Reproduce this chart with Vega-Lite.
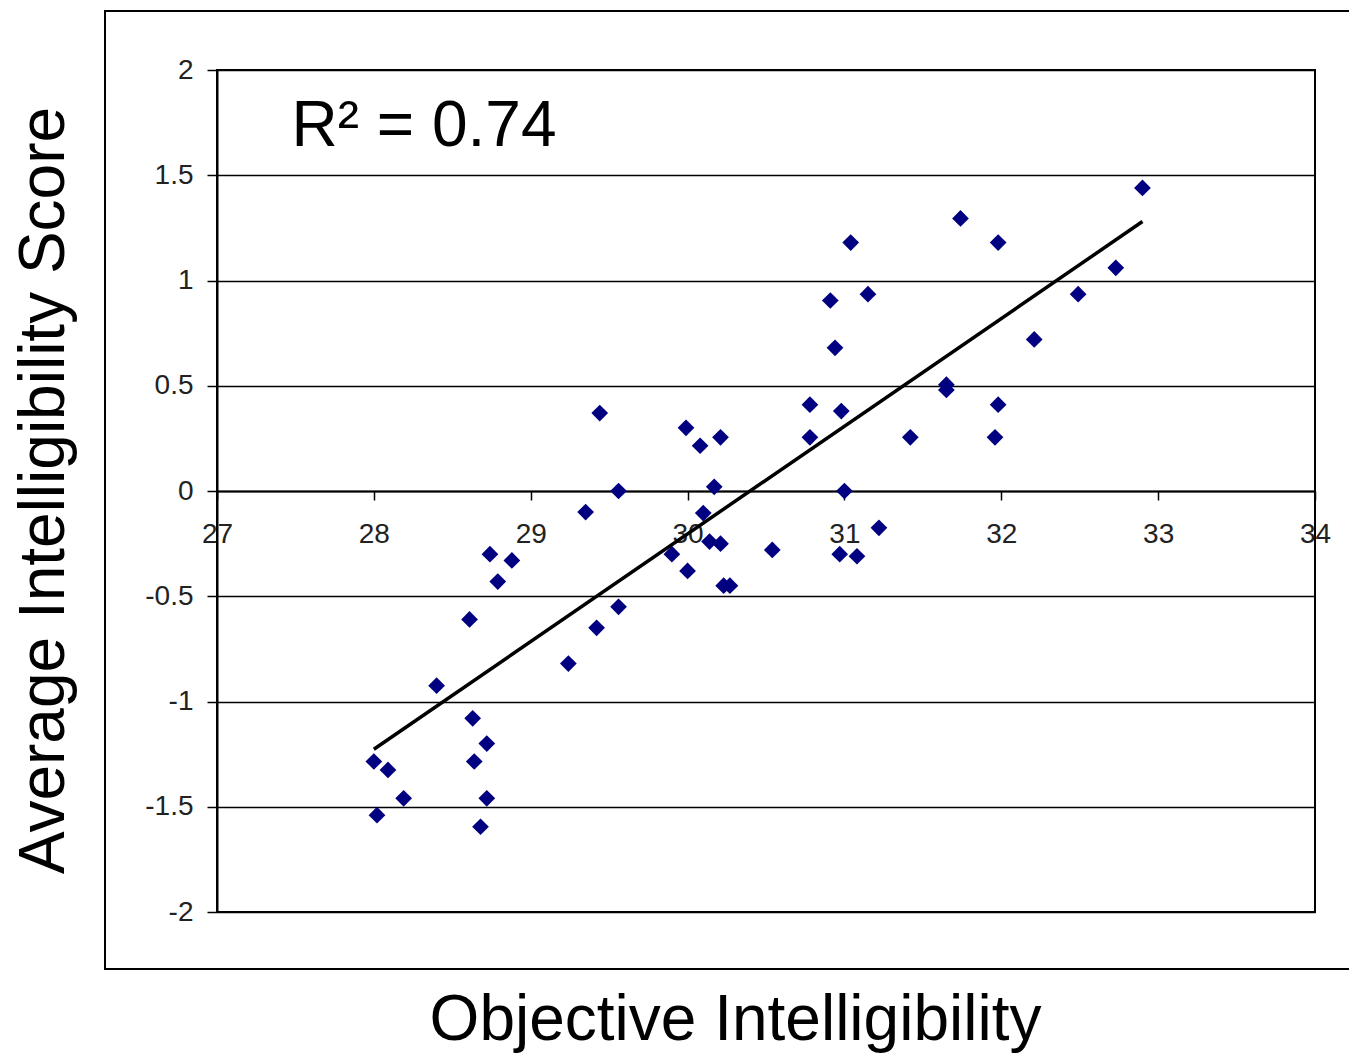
{
  "$schema": "https://vega.github.io/schema/vega-lite/v6.json",
  "width": 1098,
  "height": 842,
  "autosize": {"type": "none"},
  "padding": {"left": 217, "top": 70, "right": 34, "bottom": 142},
  "background": "white",
  "config": {
    "font": "Liberation Sans",
    "view": {"stroke": "black", "strokeWidth": 2},
    "axis": {
      "domainColor": "black",
      "domainWidth": 2,
      "tickColor": "black",
      "tickWidth": 1.5,
      "labelFont": "Liberation Sans",
      "labelFontSize": 28,
      "labelColor": "#222222",
      "labelFlush": false,
      "labelOverlap": false,
      "titleFont": "Liberation Sans",
      "titleFontWeight": "normal",
      "titleColor": "black"
    },
    "axisX": {
      "offset": -421,
      "grid": false,
      "tickCount": 7,
      "tickSize": 9,
      "labelPadding": 20,
      "labelAngle": 0,
      "titleFontSize": 64,
      "titleX": 518,
      "titleY": 548,
      "titleAlign": "center",
      "titleBaseline": "alphabetic",
      "titleAngle": 0
    },
    "axisY": {
      "grid": true,
      "gridColor": "black",
      "gridWidth": 1.5,
      "gridOpacity": 1,
      "tickCount": 8,
      "tickSize": 10,
      "labelPadding": 14,
      "labelExpr": "replace(format(datum.value, '~g'), '\u2212', '-')",
      "titleFontSize": 64,
      "titleX": -154,
      "titleY": 420,
      "titleAngle": 270,
      "titleAlign": "center",
      "titleBaseline": "alphabetic"
    }
  },
  "datasets": {
    "points": [
      {"objective": 29.44, "score": 0.37},
      {"objective": 29.99, "score": 0.30},
      {"objective": 30.08, "score": 0.215},
      {"objective": 29.56, "score": 0.0},
      {"objective": 29.35, "score": -0.10},
      {"objective": 28.74, "score": -0.30},
      {"objective": 28.88, "score": -0.33},
      {"objective": 28.79, "score": -0.43},
      {"objective": 29.90, "score": -0.30},
      {"objective": 30.00, "score": -0.38},
      {"objective": 28.61, "score": -0.61},
      {"objective": 29.56, "score": -0.55},
      {"objective": 29.42, "score": -0.65},
      {"objective": 29.24, "score": -0.82},
      {"objective": 28.40, "score": -0.925},
      {"objective": 28.63, "score": -1.08},
      {"objective": 28.72, "score": -1.20},
      {"objective": 28.64, "score": -1.285},
      {"objective": 28.00, "score": -1.285},
      {"objective": 28.09, "score": -1.325},
      {"objective": 28.19, "score": -1.46},
      {"objective": 28.72, "score": -1.46},
      {"objective": 28.02, "score": -1.54},
      {"objective": 28.68, "score": -1.595},
      {"objective": 30.21, "score": 0.255},
      {"objective": 30.78, "score": 0.41},
      {"objective": 30.98, "score": 0.38},
      {"objective": 30.78, "score": 0.255},
      {"objective": 31.42, "score": 0.255},
      {"objective": 31.65, "score": 0.505},
      {"objective": 31.65, "score": 0.48},
      {"objective": 31.98, "score": 0.41},
      {"objective": 31.96, "score": 0.255},
      {"objective": 30.17, "score": 0.02},
      {"objective": 31.00, "score": 0.0},
      {"objective": 30.10, "score": -0.105},
      {"objective": 31.22, "score": -0.175},
      {"objective": 30.14, "score": -0.24},
      {"objective": 30.21, "score": -0.25},
      {"objective": 30.54, "score": -0.28},
      {"objective": 30.97, "score": -0.30},
      {"objective": 31.08, "score": -0.31},
      {"objective": 30.23, "score": -0.45},
      {"objective": 30.27, "score": -0.45},
      {"objective": 32.90, "score": 1.44},
      {"objective": 31.74, "score": 1.295},
      {"objective": 31.04, "score": 1.18},
      {"objective": 31.98, "score": 1.18},
      {"objective": 32.73, "score": 1.06},
      {"objective": 30.91, "score": 0.905},
      {"objective": 31.15, "score": 0.935},
      {"objective": 32.49, "score": 0.935},
      {"objective": 30.94, "score": 0.68},
      {"objective": 32.21, "score": 0.72}
    ],
    "trend": [
      {"objective": 28.0, "score": -1.227},
      {"objective": 32.9, "score": 1.28}
    ],
    "frame": [
      {"left": 26.286, "right": 34.5, "top": 2.28, "bottom": -2.271}
    ]
  },
  "layer": [
    {
      "data": {"name": "frame"},
      "mark": {"type": "rect", "fillOpacity": 0, "stroke": "black", "strokeWidth": 2, "clip": false},
      "encoding": {
        "x": {"field": "left", "type": "quantitative", "title": "Objective Intelligibility", "scale": {"domain": [27, 34], "nice": false, "zero": false}},
        "x2": {"field": "right"},
        "y": {"field": "top", "type": "quantitative", "title": "Average Intelligibility Score", "scale": {"domain": [-2, 2], "nice": false, "zero": false}},
        "y2": {"field": "bottom"}
      }
    },
    {
      "data": {"name": "points"},
      "mark": {"type": "point", "shape": "diamond", "filled": true, "color": "#000080", "opacity": 1, "size": 280},
      "encoding": {
        "x": {"field": "objective", "type": "quantitative", "title": "Objective Intelligibility", "scale": {"domain": [27, 34], "nice": false, "zero": false}},
        "y": {"field": "score", "type": "quantitative", "title": "Average Intelligibility Score", "scale": {"domain": [-2, 2], "nice": false, "zero": false}}
      }
    },
    {
      "data": {"name": "trend"},
      "mark": {"type": "line", "color": "black", "strokeWidth": 3.5},
      "encoding": {
        "x": {"field": "objective", "type": "quantitative", "title": "Objective Intelligibility", "scale": {"domain": [27, 34], "nice": false, "zero": false}},
        "y": {"field": "score", "type": "quantitative", "title": "Average Intelligibility Score", "scale": {"domain": [-2, 2], "nice": false, "zero": false}}
      }
    },
    {
      "data": {"values": [{"label": "R² = 0.74"}]},
      "mark": {"type": "text", "fontSize": 64, "font": "Liberation Sans", "align": "left", "baseline": "alphabetic", "color": "black"},
      "encoding": {
        "text": {"field": "label"},
        "x": {"datum": 27.475, "type": "quantitative", "title": "Objective Intelligibility", "scale": {"domain": [27, 34], "nice": false, "zero": false}},
        "y": {"datum": 1.639, "type": "quantitative", "title": "Average Intelligibility Score", "scale": {"domain": [-2, 2], "nice": false, "zero": false}}
      }
    }
  ]
}
